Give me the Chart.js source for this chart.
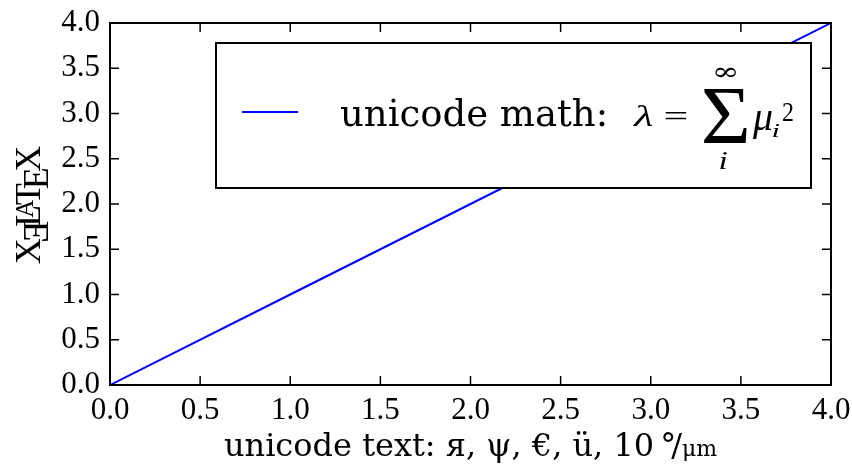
<!DOCTYPE html>
<html>
<head>
<meta charset="utf-8">
<script src="https://cdn.jsdelivr.net/npm/chart.js@4"></script>
<style>
  html, body { margin: 0; padding: 0; background: #fff; }
  #wrap { width: 852px; height: 464px; position: relative; }
</style>
</head>
<body>
<div id="wrap"><canvas id="chart"></canvas></div>
<script>
const xValues = [0, 1, 2, 3, 4];
const yValues = [0, 1, 2, 3, 4];
const tickValues = [0, 0.5, 1, 1.5, 2, 2.5, 3, 3.5, 4];
const seriesLabel = 'unicode math:';
const xTitle = 'unicode text: я, ψ, €, ü, 10';
const xUnit = ['°', '/', 'μm'];
const yLogo = ['X', 'Ǝ', 'L', 'A', 'T', 'E', 'X'];

const lineColor = '#0000ff';
const serif = '"Liberation Serif", "Times New Roman", serif';
const dejavu = '"DejaVu Serif", serif';

// draw a glyph stretched into a box (for the math bits)
function boxText(ctx, s, font, x0, y0, x1, y1) {
  ctx.font = font;
  const m = ctx.measureText(s);
  const w = m.actualBoundingBoxLeft + m.actualBoundingBoxRight;
  const h = m.actualBoundingBoxAscent + m.actualBoundingBoxDescent;
  ctx.save();
  ctx.translate(x0, y0);
  ctx.scale((x1 - x0) / w, (y1 - y0) / h);
  ctx.fillText(s, m.actualBoundingBoxLeft, m.actualBoundingBoxAscent);
  ctx.restore();
}

function drawLegend(ctx, a) {
  const bw = 595, bh = 145;
  const bx = a.right - 20 - bw, by = a.top + 20;
  ctx.fillStyle = '#fff';
  ctx.fillRect(bx, by, bw, bh);
  ctx.strokeStyle = '#000';
  ctx.lineWidth = 2;
  ctx.strokeRect(bx, by, bw, bh);

  ctx.strokeStyle = lineColor;
  ctx.beginPath();
  ctx.moveTo(bx + 26, by + 69);
  ctx.lineTo(bx + 82, by + 69);
  ctx.stroke();

  ctx.fillStyle = '#000';
  ctx.textAlign = 'left';
  ctx.textBaseline = 'alphabetic';
  ctx.font = '37px ' + dejavu;
  ctx.fillText(seriesLabel, bx + 124, by + 83);

  boxText(ctx, 'λ', 'italic 40px ' + serif, bx + 417, by + 63, bx + 437, by + 83);
  boxText(ctx, '=', '30px ' + serif, bx + 449, by + 69, bx + 471, by + 77);
  boxText(ctx, 'Σ', '80px ' + serif, bx + 488, by + 45, bx + 531, by + 100);
  boxText(ctx, '∞', '30px ' + dejavu, bx + 499, by + 24, bx + 520, by + 34);
  boxText(ctx, 'i', 'italic 24px ' + serif, bx + 504, by + 110, bx + 511, by + 126);
  boxText(ctx, 'μ', 'italic 40px ' + serif, bx + 536, by + 67, bx + 556, by + 97);
  boxText(ctx, 'i', 'italic 22px ' + serif, bx + 557, by + 82, bx + 564, by + 94);
  boxText(ctx, '2', '24px ' + serif, bx + 567, by + 61, bx + 577, by + 78);
}

function drawXTitle(ctx, a) {
  const big = '32px ' + dejavu, small = '22px ' + dejavu;
  ctx.font = big;
  const w0 = ctx.measureText(xTitle).width;
  const w1 = ctx.measureText(xUnit[0]).width;
  const w2 = ctx.measureText(xUnit[1]).width;
  ctx.font = small;
  const w3 = ctx.measureText(xUnit[2]).width;
  const gap = 8;
  const total = w0 + gap + w1 - 7 + w2 + w3;
  let x = (a.left + a.right) / 2 - total / 2;
  const base = 456;
  ctx.fillStyle = '#000';
  ctx.textAlign = 'left';
  ctx.textBaseline = 'alphabetic';
  ctx.font = big;
  ctx.fillText(xTitle, x, base);
  x += w0 + gap;
  ctx.fillText(xUnit[0], x - 2, base);
  ctx.fillText(xUnit[1], x + w1 - 7, base);
  x += w1 - 7 + w2;
  ctx.font = small;
  ctx.fillText(xUnit[2], x, base);
}

function drawYTitle(ctx, a) {
  const F = 36;
  const full = F + 'px ' + serif, sc = Math.round(F * 0.7) + 'px ' + serif;
  const ex = 0.45 * F, cap = 0.662 * F;
  // [text, font, kern after (em), drop]
  const parts = [
    [yLogo[0], full, -0.125, 0],
    [yLogo[1], full, -0.1667, 0.5 * ex],
    [yLogo[2], full, -0.36, 0],
    [yLogo[3], sc, -0.15, -(cap - 0.662 * F * 0.7)],
    [yLogo[4], full, -0.1667, 0],
    [yLogo[5], full, -0.125, 0.5 * ex],
    [yLogo[6], full, 0, 0]
  ];
  let total = 0;
  const ws = parts.map(p => { ctx.font = p[1]; const w = ctx.measureText(p[0]).width; total += w + p[2] * F; return w; });
  ctx.save();
  ctx.translate(40, (a.top + a.bottom) / 2 + 1);
  ctx.rotate(-Math.PI / 2);
  ctx.fillStyle = '#000';
  ctx.textAlign = 'left';
  ctx.textBaseline = 'alphabetic';
  let x = -total / 2;
  parts.forEach((p, i) => {
    ctx.font = p[1];
    ctx.fillText(p[0], x, p[3]);
    x += ws[i] + p[2] * F;
  });
  ctx.restore();
}

const frame = {
  id: 'frame',
  afterDatasetsDraw(chart) {
    const { ctx, chartArea: a, scales: { x, y } } = chart;
    ctx.save();
    ctx.strokeStyle = '#000';
    ctx.lineWidth = 1.5;
    ctx.beginPath();
    tickValues.forEach(v => {
      const px = x.getPixelForValue(v), py = y.getPixelForValue(v);
      ctx.moveTo(px, a.bottom); ctx.lineTo(px, a.bottom - 9);
      ctx.moveTo(px, a.top); ctx.lineTo(px, a.top + 9);
      ctx.moveTo(a.left, py); ctx.lineTo(a.left + 9, py);
      ctx.moveTo(a.right, py); ctx.lineTo(a.right - 9, py);
    });
    ctx.stroke();
    ctx.lineWidth = 2;
    ctx.strokeRect(a.left, a.top, a.right - a.left, a.bottom - a.top);
    drawLegend(ctx, a);
    drawXTitle(ctx, a);
    drawYTitle(ctx, a);
    ctx.restore();
  }
};

const tickFont = { family: serif, size: 31 };

new Chart(document.getElementById('chart'), {
  type: 'line',
  data: {
    datasets: [{
      label: seriesLabel,
      data: xValues.map((v, i) => ({ x: v, y: yValues[i] })),
      borderColor: lineColor,
      borderWidth: 2,
      pointRadius: 0,
      tension: 0
    }]
  },
  options: {
    responsive: true,
    maintainAspectRatio: false,
    animation: false,
    layout: { padding: { top: 23, right: 21, left: 0, bottom: 0 } },
    plugins: { legend: { display: false }, tooltip: { enabled: false } },
    scales: {
      x: {
        type: 'linear', min: 0, max: 4,
        afterBuildTicks: s => { s.ticks = tickValues.map(v => ({ value: v })); },
        afterFit: s => { s.height = 79; s.paddingLeft = 0; s.paddingRight = 0; },
        grid: { display: false, drawTicks: false },
        border: { display: false },
        ticks: { font: tickFont, color: '#000', padding: 7, maxRotation: 0, autoSkip: false, callback: v => v.toFixed(1) }
      },
      y: {
        type: 'linear', min: 0, max: 4,
        afterBuildTicks: s => { s.ticks = tickValues.map(v => ({ value: v })); },
        afterFit: s => { s.width = 110; s.paddingTop = 0; s.paddingBottom = 0; },
        grid: { display: false, drawTicks: false },
        border: { display: false },
        ticks: { font: tickFont, color: '#000', padding: 10, autoSkip: false, callback: v => v.toFixed(1) }
      }
    }
  },
  plugins: [frame]
});
</script>
</body>
</html>
